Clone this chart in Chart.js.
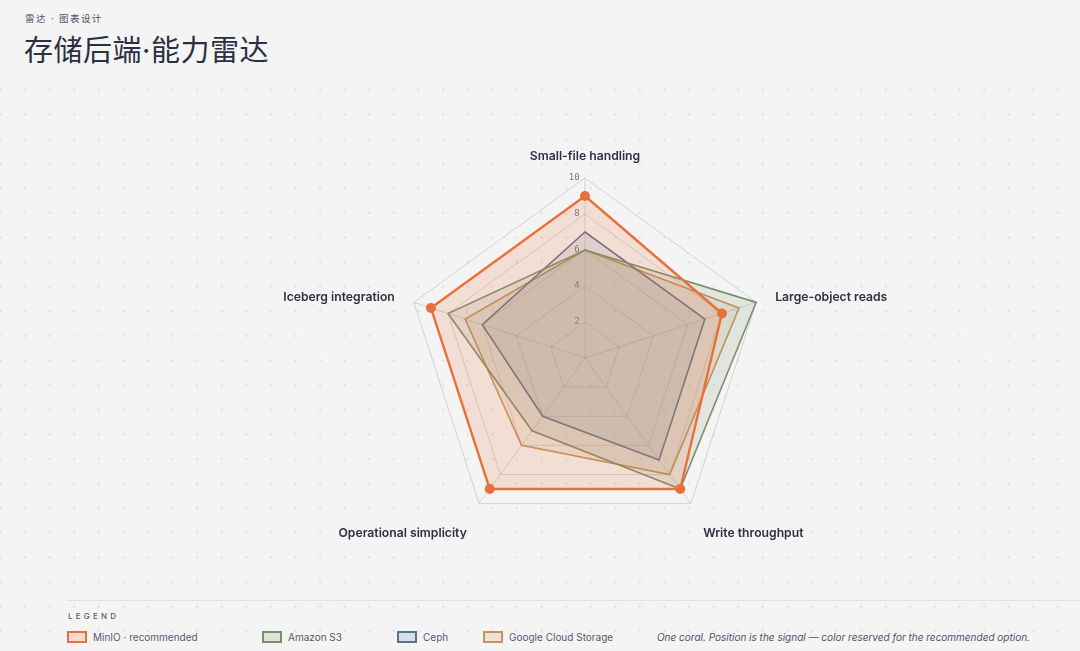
<!DOCTYPE html>
<html>
<head>
<meta charset="utf-8">
<script src="https://cdn.jsdelivr.net/npm/chart.js@4/dist/chart.umd.min.js"></script>
<style>
  html, body { margin: 0; padding: 0; }
  body {
    width: 1080px; height: 651px; overflow: hidden; position: relative;
    background: #f4f4f4;
    font-family: Inter, "Noto Sans", sans-serif;
  }
  .dots {
    position: absolute; left: 0; top: 78px; right: 0; bottom: 0;
    background-image: radial-gradient(circle, #e1e1e1 1px, transparent 1.3px);
    background-size: 24.6px 24.6px;
    background-position: 12.7px -0.3px;
  }
  .eyebrow {
    position: absolute; left: 25px; top: 11px;
    font: 400 9.5px "Noto Sans CJK SC", sans-serif; letter-spacing: 1.4px; color: #4b536b;
  }
  h1 {
    position: absolute; left: 24px; top: 27px; margin: 0;
    font: 400 29px "Noto Sans CJK SC", sans-serif; color: #2b3040; letter-spacing: 0.5px;
  }
  .latin { font-family: Inter, sans-serif; }
  #wrap { position: absolute; left: 0; top: 130px; width: 1080px; height: 460px; }
  .legend-rule { position: absolute; left: 67px; right: 0; top: 600px; border-top: 1px solid #e2e2e2; }
  .legend-title {
    position: absolute; left: 68px; top: 611px;
    font: 500 8px Inter, sans-serif; letter-spacing: 3.2px; color: #555b6e;
  }
  #legend { position: absolute; left: 67px; top: 631px; display: flex; align-items: center; }
  #legend .item { display: flex; align-items: center; font: 400 10px Inter, sans-serif; color: #555b70; }
  #legend .item:nth-child(1) { width: 195px; }
  #legend .item:nth-child(2) { width: 135px; }
  #legend .item:nth-child(3) { width: 86px; }
  #legend .item:nth-child(4) { width: 219px; }
  #legend .sw { width: 16px; height: 8px; border: 2px solid; margin-right: 6px; }
  .note {
    position: absolute; right: 50px; top: 631px;
    font: italic 400 10px Inter, sans-serif; color: #4b536b;
  }
</style>
</head>
<body>
<div class="dots"></div>
<div class="eyebrow">雷达<span class="latin"> · </span>图表设计</div>
<h1>存储后端<span class="latin">·</span>能力雷达</h1>
<div id="wrap"><canvas id="radar"></canvas></div>
<div class="legend-rule"></div>
<div class="legend-title">LEGEND</div>
<div id="legend"></div>
<div class="note">One coral. Position is the signal — color reserved for the recommended option.</div>

<script>
// axes, clockwise from the top
const AXES = ["Small-file handling", "Large-object reads", "Write throughput", "Operational simplicity", "Iceberg integration"];
const SERIES = ["MinIO · recommended", "Amazon S3", "Ceph", "Google Cloud Storage"];
const MINIO = [9, 8, 9, 9, 9];
const S3 = [6, 10, 9, 5, 8];
const CEPH = [7, 7, 7, 4, 6];
const GCS = [6, 9, 8, 6, 7];
const TICKS = [0, 2, 4, 6, 8, 10];

// styling
const LINE = ["#e8703a", "#7a8f6c", "#65738f", "#c3955a"];
const FILL = ["rgba(232,112,58,0.17)", "rgba(122,143,108,0.15)", "rgba(102,117,146,0.14)", "rgba(195,149,90,0.15)"];
const SWATCH = ["#f6dccf", "#dde3d9", "#d9dfe7", "#efe2d1"];
const SWATCH_LINE = ["#e8703a", "#7a8f6c", "#5a7394", "#c3955a"];
const INK = "#2d3142";
const GRID = "rgba(0,0,0,0.14)";

const values = [MINIO, S3, CEPH, GCS];

// point labels drawn from the scale's own positions
const axisLabels = {
  id: "axisLabels",
  afterDraw(chart) {
    const r = chart.scales.r;
    const ctx = chart.ctx;
    ctx.save();
    ctx.font = "600 12.2px Inter, sans-serif";
    ctx.fillStyle = INK;
    AXES.forEach((label, i) => {
      const a = r.getIndexAngle(i) - Math.PI / 2;
      const dx = Math.cos(a), dy = Math.sin(a);
      let pad = 20, base = "middle", nudge = 1.5;
      if (dy < -0.9) { pad = 16; base = "bottom"; nudge = 0; }
      else if (dy > 0.5) { pad = 21; base = "top"; nudge = 6.5; }
      const p = r.getPointPosition(i, r.drawingArea + pad);
      ctx.textAlign = Math.abs(dx) < 0.05 ? "center" : dx > 0 ? "left" : "right";
      ctx.textBaseline = base;
      ctx.fillText(label, p.x, p.y + nudge);
    });
    ctx.restore();
  },
};

new Chart(document.getElementById("radar"), {
  type: "radar",
  data: {
    labels: AXES,
    datasets: SERIES.map((name, i) => ({
      label: name,
      data: values[i],
      borderColor: LINE[i],
      backgroundColor: FILL[i],
      borderWidth: i === 0 ? 2.4 : 1.6,
      pointRadius: i === 0 ? 5 : 0,
      pointHoverRadius: i === 0 ? 5 : 0,
      pointBackgroundColor: LINE[i],
      pointBorderWidth: 0,
      fill: true,
    })),
  },
  options: {
    responsive: true,
    maintainAspectRatio: false,
    animation: false,
    // the tick font (9px) is reserved by the scale, so the area is 369px for a 180px radius
    layout: { padding: { top: 43.5, bottom: 47.5, left: 400.5, right: 310.5 } },
    plugins: { legend: { display: false }, tooltip: { enabled: false } },
    scales: {
      r: {
        min: TICKS[0],
        max: TICKS[TICKS.length - 1],
        grid: { color: GRID, lineWidth: 1 },
        angleLines: { color: GRID },
        pointLabels: { display: false },
        afterBuildTicks: (s) => { s.ticks = TICKS.map((v) => ({ value: v })); },
        ticks: {
          showLabelBackdrop: false,
          backdropPadding: 0,
          color: "#6e7690",
          font: { family: "DejaVu Sans Mono", size: 9 },
          callback: (v) => String(v).padStart(2, " ") + "    ",
        },
      },
    },
  },
  plugins: [axisLabels],
});

document.getElementById("legend").innerHTML = SERIES.map((name, i) =>
  `<div class="item"><span class="sw" style="background:${SWATCH[i]};border-color:${SWATCH_LINE[i]}"></span>${name}</div>`
).join("");
</script>
</body>
</html>
